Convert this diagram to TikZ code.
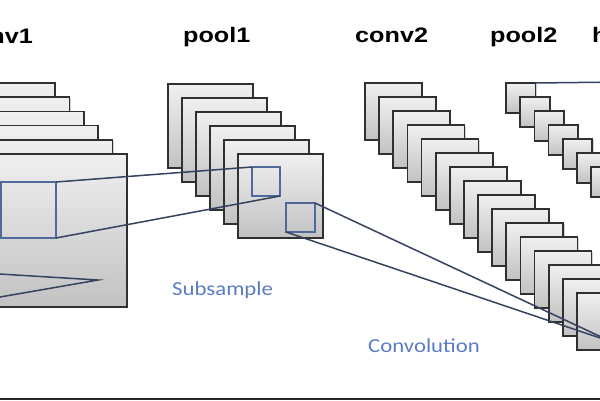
\documentclass[tikz,border=0pt]{standalone}
\usepackage{fontspec}
\newfontfamily\labfont[FakeStretch=1.2]{Liberation Sans}
\newfontfamily\capfont[FakeStretch=1.15]{Carlito}
\usetikzlibrary{shadows}
\definecolor{linecol}{HTML}{34435E}
\definecolor{sqcol}{HTML}{4F6A9A}
\definecolor{txtblue}{HTML}{5A7CC4}
\definecolor{boxedge}{HTML}{303030}
\tikzset{
  fmap/.style={draw=boxedge, line width=1.7pt, top color=gray!12, bottom color=gray!48,
    general shadow={fill=black, opacity=0.18, shadow xshift=1.2pt, shadow yshift=-1.2pt}},
  conn/.style={draw=linecol, line width=1.5pt},
  rf/.style={draw=sqcol, line width=1.2pt},
  layerlabel/.style={font=\labfont\bfseries\fontsize{21}{25}\selectfont, inner sep=0pt},
  oplabel/.style={font=\capfont\fontsize{19.8}{23}\selectfont, text=txtblue, inner sep=0pt}
}
\begin{document}
\begin{tikzpicture}[x=1pt,y=-1pt]
\useasboundingbox (0,0) rectangle (600,400);
\clip (0,0) rectangle (600,400);
% conv1 stack
\foreach \i in {0,...,5}{
  \path[fmap] ({127-14.4*(5-\i)-153},{154-14.2*(5-\i)}) rectangle ++(153,153);
}
% pool1 stack
\foreach \i in {0,...,5}{
  \path[fmap] ({168+14*\i},{84+14*\i}) rectangle ++(85,84);
}
% conv2 stack
\foreach \i in {0,...,15}{
  \path[fmap] ({365+14.13*\i},{83+14*\i}) rectangle ++(57,57);
}
% pool2 stack
\foreach \i in {0,...,7}{
  \path[fmap] ({506+14.2*\i},{83+14*\i}) rectangle ++(29.5,30);
}
% receptive fields
\draw[rf] (1,182) rectangle (56,238);
\draw[rf] (252,167) rectangle (280,196);
\draw[rf] (286,203) rectangle (315,232);
\coordinate (c1tr) at (56,182);
\coordinate (c1br) at (56,238);
\coordinate (patl) at (252,167);
\coordinate (pabr) at (280,196);
\coordinate (pbtr) at (315,203);
\coordinate (pbbl) at (286,232);
\coordinate (c2pt) at (612,342);
\coordinate (inA) at (-50,271);
\coordinate (inB) at (-50,305.7);
\coordinate (tip) at (98,280);
\coordinate (p2tr) at (535.5,83);
\coordinate (hid) at (620,82);
% connectors
\draw[conn] (c1tr) -- (patl);
\draw[conn] (c1br) -- (pabr);
\draw[conn] (pbtr) -- (c2pt);
\draw[conn] (pbbl) -- (c2pt);
\draw[conn] (inA) -- (tip) -- (inB);
\draw[conn] (p2tr) -- (hid);
% labels
\node[layerlabel, anchor=base east] (lc1) at (33,43) {conv1};
\node[layerlabel, anchor=base west] (lp1) at (183,42) {pool1};
\node[layerlabel, anchor=base west] (lc2) at (355,42) {conv2};
\node[layerlabel, anchor=base west] (lp2) at (490,42) {pool2};
\node[layerlabel, anchor=base west] (lh) at (592,42) {h};
\node[oplabel, anchor=base west] (sub) at (172,295) {Subsample};
\node[oplabel, anchor=base west] (cv) at (368,352) {Convolution};
% bottom rule
\coordinate (bl) at (0,398.8);
\coordinate (br) at (600,398.8);
\draw[line width=2.5pt, draw=black!85] (bl) -- (br);
\end{tikzpicture}
\end{document}
